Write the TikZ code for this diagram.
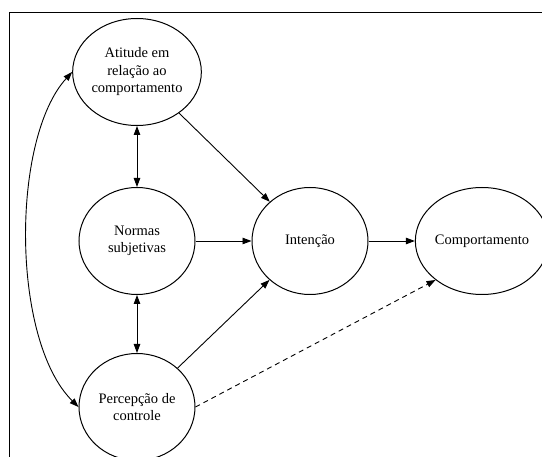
\documentclass[tikz,border=0pt]{standalone}
\usepackage{fontspec}
\setmainfont{Liberation Serif}
\usetikzlibrary{arrows.meta,shapes.geometric}

\begin{document}
\begin{tikzpicture}[
  x=1pt, y=1pt,
  construct/.style={ellipse, draw, line width=1pt, minimum width=116pt, minimum height=107pt, inner sep=0pt, align=center, font=\fontsize{14.5}{17.5}\selectfont},
  link/.style={-{Triangle[length=9pt,width=6.5pt]}, line width=0.9pt},
  dlink/.style={{Triangle[length=9pt,width=6.5pt]}-{Triangle[length=9pt,width=6.5pt]}, line width=0.9pt},
  node distance=170pt
]
\useasboundingbox (0,0) rectangle (542,-457);
\draw[line width=1pt] (542,-13) -| (9,-457);

\node[construct] (atitude) at (137,-72) {Atitude em\\relação ao\\comportamento};
\node[construct, below of=atitude, node distance=169pt] (normas) {Normas\\subjetivas};
\node[construct, below of=normas, node distance=166pt] (percepcao) {Percepção de\\controle};
\node[construct, right of=normas, node distance=173pt] (intencao) {Intenção};
\node[construct, right of=intencao, node distance=172pt] (comport) {Comportamento};

\draw[dlink] (atitude) -- (normas);
\draw[dlink] (normas) -- (percepcao);
\draw[dlink] (atitude.west) .. controls (11,-139) and (11,-340) .. (percepcao.west);
\draw[link] (atitude) -- (intencao);
\draw[link] (normas) -- (intencao);
\draw[link] (percepcao) -- (intencao);
\draw[link] (intencao) -- (comport);
\draw[link, dash pattern=on 5pt off 4pt] (percepcao.east) -- (comport.220);
\end{tikzpicture}
\end{document}
